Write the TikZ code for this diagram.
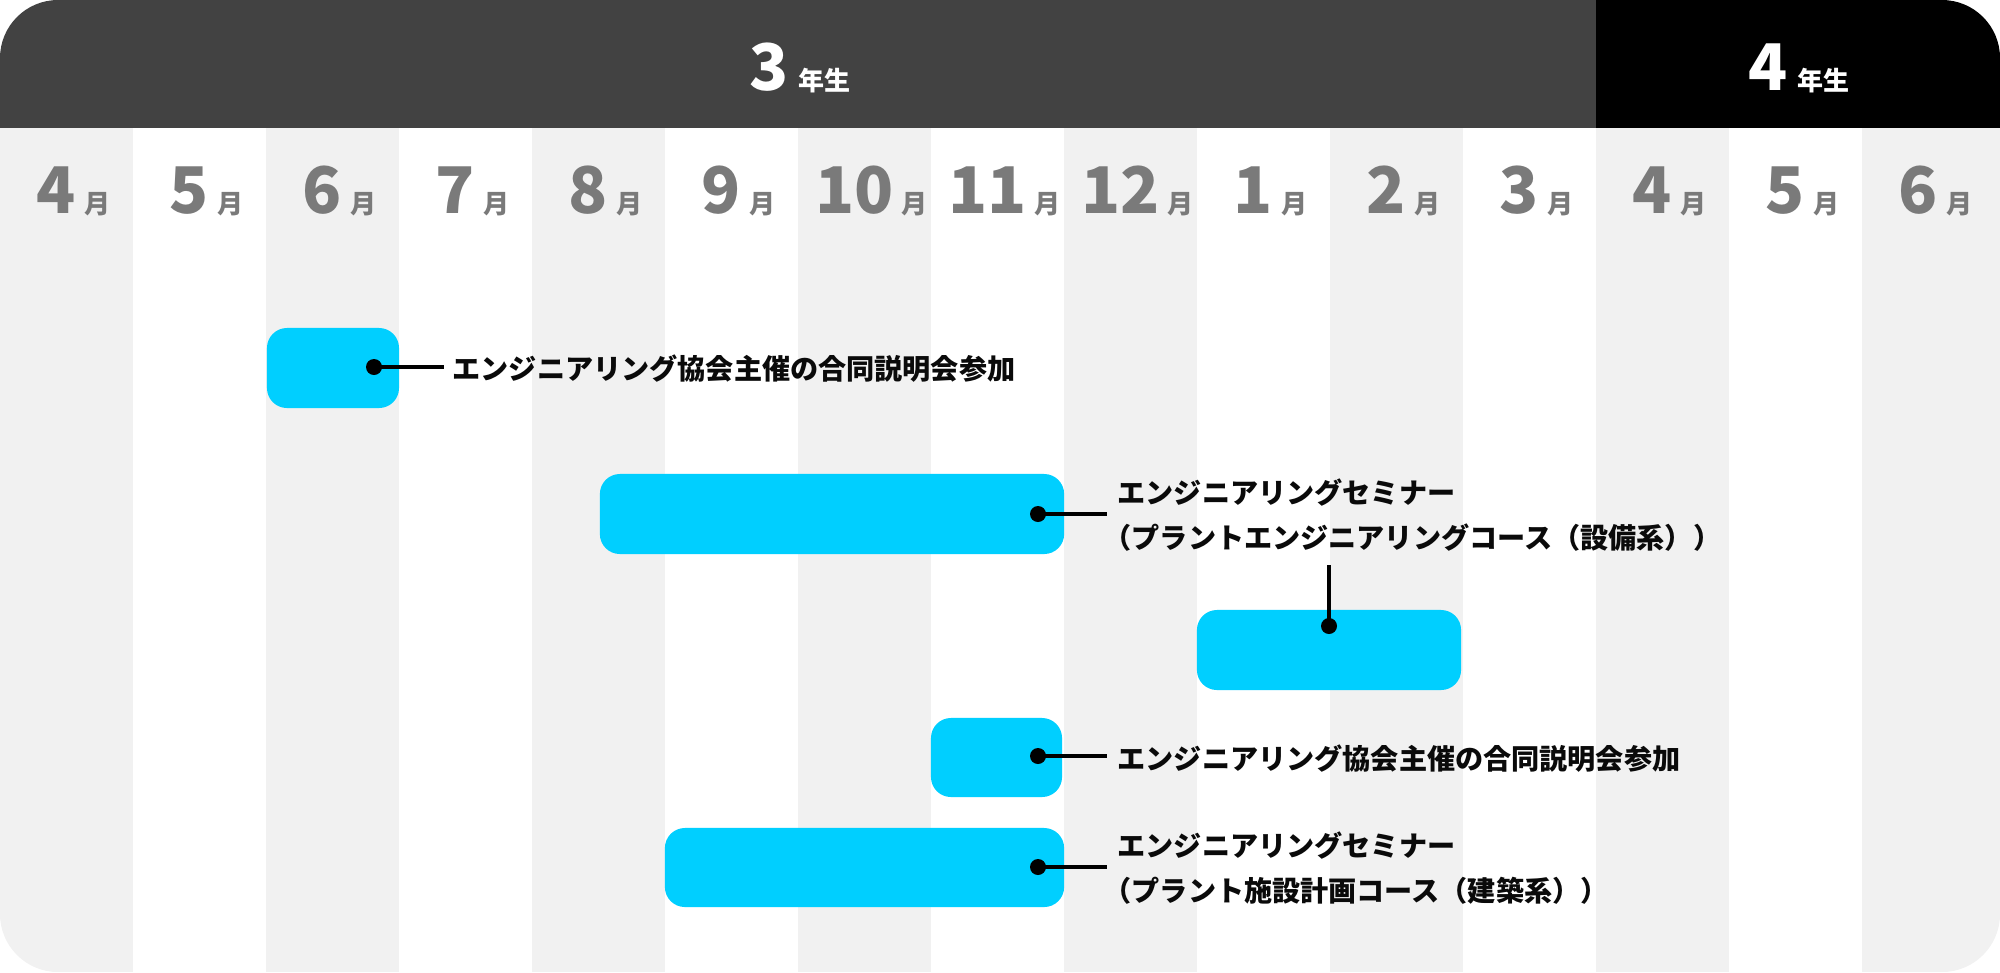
\documentclass[tikz,border=0pt]{standalone}
\usepackage{fontspec}
\newfontfamily\jp{Noto Sans CJK JP}
\definecolor{hdr}{HTML}{424242}
\definecolor{colg}{HTML}{F1F1F1}
\definecolor{barc}{HTML}{00CFFF}
\definecolor{monc}{HTML}{7A7A7A}
\definecolor{lblc}{HTML}{0A0A0A}
\begin{document}
\begin{tikzpicture}[x=0.01cm,y=-0.01cm,
  bar/.style={fill=barc, rounded corners=0.2cm, inner sep=0pt, minimum height=0.8cm},
  conn/.style={line width=1pt, draw=black},
  dotc/.style={circle, fill=black, inner sep=0pt, minimum size=0.16cm},
  lbl/.style={anchor=west, inner sep=0pt, font=\jp\bfseries\fontsize{8}{12.8}\selectfont, align=left, text=lblc},
  mon/.style={anchor=base, inner sep=0pt, text=monc, font=\jp\bfseries},
  yr/.style={anchor=base, inner sep=0pt, text=white, font=\jp\bfseries}]
\useasboundingbox (0,0) rectangle (2000,972);
\begin{scope}
\clip[rounded corners=0.58cm] (0,0) rectangle (2000,972);
\fill[white] (0,0) rectangle (2000,972);
\foreach \i in {0,2,...,12} \fill[colg] ({133*\i},128) rectangle ({133*(\i+1)},972);
\fill[colg] (1862,128) rectangle (2000,972);
\fill[hdr] (0,0) rectangle (1596,128);
\fill[black] (1596,0) rectangle (2000,128);
\end{scope}
% year headers
\node[yr] (y3) at (800,90) {{\fontsize{18.3}{19}\selectfont 3}\kern0.09cm{\fontsize{7.4}{8}\selectfont 年生}};
\node[yr] (y4) at (1799,90) {{\fontsize{18.3}{19}\selectfont 4}\kern0.09cm{\fontsize{7.4}{8}\selectfont 年生}};
% months
\foreach \m [count=\i from 0] in {4,5,6,7,8,9,10,11,12,1,2,3,4,5,6}
  \node[mon] (m\i) at ({133*\i+73.5},213) {{\fontsize{18.3}{19}\selectfont \m}\kern0.08cm{\fontsize{7.4}{8}\selectfont 月}};
% bars
\node[bar, minimum width=1.32cm] (b1) at (333,368) {};
\node[bar, minimum width=4.64cm] (b2) at (832,514) {};
\node[bar, minimum width=2.64cm] (b3) at (1329,650) {};
\node[bar, minimum width=1.31cm, minimum height=0.79cm] (b4) at (996.5,757.5) {};
\node[bar, minimum width=3.99cm, minimum height=0.79cm] (b5) at (864.5,867.5) {};
% dots
\node[dotc] (d1) at (374,367) {};
\node[dotc] (d2) at (1038,514) {};
\node[dotc] (d3) at (1329,626) {};
\node[dotc] (d4) at (1038,756) {};
\node[dotc] (d5) at (1038,867) {};
% connector ends
\coordinate (e1) at (444,367);
\coordinate (e2) at (1107,514);
\coordinate (e3) at (1329,565);
\coordinate (e4) at (1107,756);
\coordinate (e5) at (1107,867);
\draw[conn] (d1.center) -- (e1);
\draw[conn] (d2.center) -- (e2);
\draw[conn] (d3.center) -- (e3);
\draw[conn] (d4.center) -- (e4);
\draw[conn] (d5.center) -- (e5);
% labels
\node[lbl] (t1) at (452,369) {エンジニアリング協会主催の合同説明会参加};
\node[lbl] (t2) at (1117,515) {エンジニアリングセミナー\\\kern-0.5em（プラントエンジニアリングコース（設備系））};
\node[lbl] (t4) at (1117,759) {エンジニアリング協会主催の合同説明会参加};
\node[lbl] (t5) at (1117,868) {エンジニアリングセミナー\\\kern-0.5em（プラント施設計画コース（建築系））};
\end{tikzpicture}
\end{document}
